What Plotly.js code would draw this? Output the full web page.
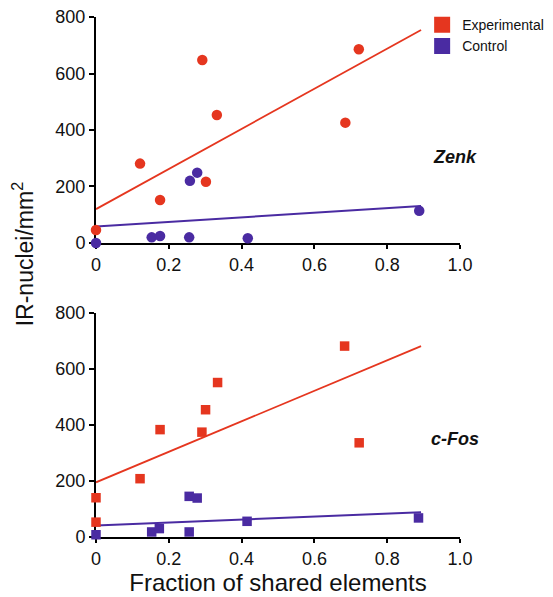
<!DOCTYPE html>
<html>
<head>
<meta charset="utf-8">
<script src="https://cdn.plot.ly/plotly-3.0.1.min.js"></script>
<style>html,body{margin:0;padding:0;background:#fff;}#chart{width:553px;height:597px;}</style>
</head>
<body>
<div id="chart"></div>
<script>
// ---- Data ----
// Top panel: Zenk
var zenkExpX = [0, 0.121, 0.176, 0.292, 0.302, 0.332, 0.685, 0.722];
var zenkExpY = [46, 281, 152, 648, 217, 453, 426, 686];
var zenkCtlX = [0, 0.153, 0.176, 0.256, 0.258, 0.278, 0.417, 0.888];
var zenkCtlY = [0, 20, 25, 20, 220, 249, 17, 114];
var zenkFitX = [0, 0.893];
var zenkExpFit = [120, 754];
var zenkCtlFit = [58, 131];

// Bottom panel: c-Fos
var fosExpX = [0, 0, 0.121, 0.176, 0.291, 0.301, 0.334, 0.683, 0.723];
var fosExpY = [140, 53, 208, 383, 374, 454, 551, 681, 336];
var fosCtlX = [0, 0.153, 0.174, 0.256, 0.256, 0.278, 0.415, 0.886];
var fosCtlY = [8, 18, 30, 18, 145, 139, 56, 68];
var fosFitX = [0, 0.893];
var fosExpFit = [195, 681];
var fosCtlFit = [41, 88];

var seriesNames = ["Experimental", "Control"];
var xTickVals = [0, 0.2, 0.4, 0.6, 0.8, 1.0];
var xTickText = ["0", "0.2", "0.4", "0.6", "0.8", "1.0"];
var yTickVals = [0, 200, 400, 600, 800];
var panelLabels = ["Zenk", "c-Fos"];

// ---- Styles ----
var RED = "#e5361f";
var BLUE = "#4a2ba2";
var FONT = "Liberation Sans, Arial, sans-serif";

function line(x, y, color, w, xa, ya) {
  return {x: x, y: y, mode: "lines", type: "scatter", xaxis: xa, yaxis: ya,
          line: {color: color, width: w}, showlegend: false, hoverinfo: "skip", cliponaxis: false};
}
function pts(x, y, color, sym, size, xa, ya) {
  return {x: x, y: y, mode: "markers", type: "scatter", xaxis: xa, yaxis: ya,
          marker: {color: color, symbol: sym, size: size, line: {width: 0}},
          showlegend: false, cliponaxis: false};
}

var data = [
  line(zenkFitX, zenkExpFit, RED, 1.8, "x", "y"),
  line(zenkFitX, zenkCtlFit, BLUE, 2, "x", "y"),
  pts(zenkExpX, zenkExpY, RED, "circle", 10.5, "x", "y"),
  pts(zenkCtlX, zenkCtlY, BLUE, "circle", 10.5, "x", "y"),
  line(fosFitX, fosExpFit, RED, 1.8, "x2", "y2"),
  line(fosFitX, fosCtlFit, BLUE, 2, "x2", "y2"),
  pts(fosExpX, fosExpY, RED, "square", 9.5, "x2", "y2"),
  pts(fosCtlX, fosCtlY, BLUE, "square", 9.5, "x2", "y2"),
  // legend entries
  {x: [null], y: [null], mode: "markers", type: "scatter", name: seriesNames[0],
   marker: {color: RED, symbol: "square", size: 16}, showlegend: true},
  {x: [null], y: [null], mode: "markers", type: "scatter", name: seriesNames[1],
   marker: {color: BLUE, symbol: "square", size: 16}, showlegend: true}
];

function xax(anchor) {
  return {domain: [0, 1], range: [0, 1], anchor: anchor, tickvals: xTickVals, ticktext: xTickText,
          showgrid: false, zeroline: false, showline: true, linecolor: "#000", linewidth: 2,
          ticks: "outside", ticklen: 4, tickwidth: 2, tickcolor: "#000",
          tickfont: {family: FONT, size: 18, color: "#111"}, layer: "below traces", fixedrange: true};
}
function yax(anchor, dom) {
  return {domain: dom, range: [0, 800], anchor: anchor, tickvals: yTickVals,
          showgrid: false, zeroline: false, showline: true, linecolor: "#000", linewidth: 2,
          ticks: "outside", ticklen: 5, tickwidth: 2, tickcolor: "#000",
          tickfont: {family: FONT, size: 18, color: "#111"}, layer: "below traces", fixedrange: true};
}

var xa1 = xax("y");
var xa2 = xax("y2");
xa2.title = {text: "Fraction of shared elements", font: {family: FONT, size: 24, color: "#111"}, standoff: 3};
var ya1 = yax("x", [0.5654, 1]);
var ya2 = yax("x2", [0, 0.4313]);

var layout = {
  width: 553, height: 597,
  margin: {l: 96, r: 93, t: 17, b: 60, autoexpand: false},
  paper_bgcolor: "#fff", plot_bgcolor: "#fff",
  font: {family: FONT, color: "#111"},
  xaxis: xa1, yaxis: ya1, xaxis2: xa2, yaxis2: ya2,
  showlegend: true,
  legend: {x: 0.896, y: 1.015, xanchor: "left", yanchor: "top", bgcolor: "rgba(0,0,0,0)",
           font: {family: FONT, size: 14, color: "#111"}, tracegroupgap: 0, itemclick: false},
  annotations: [
    {xref: "x", yref: "y", x: 0.985, y: 306, text: "<b><i>" + panelLabels[0] + "</i></b>",
     showarrow: false, font: {family: FONT, size: 18, color: "#111"}},
    {xref: "x2", yref: "y2", x: 0.985, y: 350, text: "<b><i>" + panelLabels[1] + "</i></b>",
     showarrow: false, font: {family: FONT, size: 18, color: "#111"}},
    {xref: "paper", yref: "paper", x: -0.2, y: 0.544, xanchor: "center", yanchor: "middle",
     text: "IR-nuclei/mm<sup>2</sup>", textangle: -90, showarrow: false,
     font: {family: FONT, size: 23, color: "#111"}}
  ]
};

Plotly.newPlot("chart", data, layout, {displayModeBar: false, staticPlot: true});
</script>
</body>
</html>
